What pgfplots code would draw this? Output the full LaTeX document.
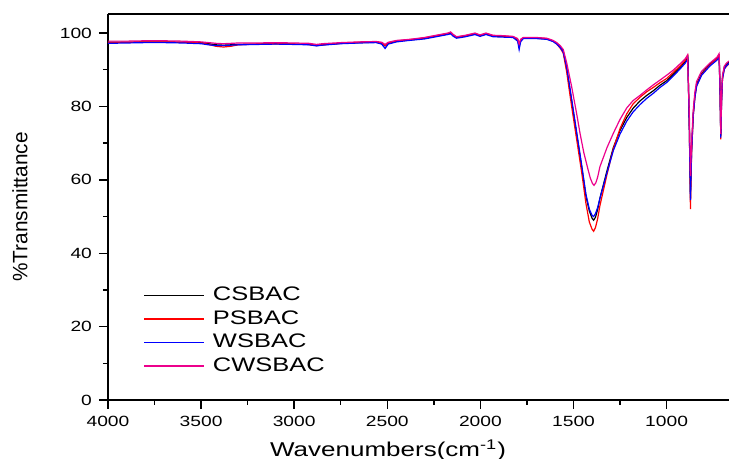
\documentclass[border=0pt]{standalone}
\usepackage{fontspec}
\setmainfont{Liberation Sans}
\newfontfamily\wide[FakeStretch=1.3]{Liberation Sans}
\usepackage{pgfplots}
\usepackage{pgfplotstable}
\pgfplotsset{compat=1.18}

\pgfplotstableread{
x y
4000 97.5
3900 97.5
3800 97.6
3700 97.6
3600 97.5
3500 97.4
3460 97.1
3420 96.8
3380 96.7
3340 96.8
3300 96.9
3200 97.0
3100 97.1
3000 97.0
2920 96.9
2880 96.6
2850 96.8
2750 97.2
2650 97.4
2560 97.5
2530 97.2
2512 96.5
2495 97.2
2450 97.8
2400 98.0
2362 98.2
2300 98.6
2217 99.4
2175 99.8
2160 100.0
2145 99.3
2128 98.8
2080 99.2
2029 99.8
2002 99.3
1970 99.8
1932 99.2
1880 99.1
1825 98.9
1800 98.2
1792 96.5
1784 98.0
1770 98.6
1700 98.6
1644 98.4
1610 97.8
1590 97.2
1570 96.2
1555 95.0
1537 90.5
1510 81.5
1483 72.5
1456 63.5
1433 55.5
1415 51.5
1400 49.5
1392 49.0
1382 49.8
1370 52.0
1358 55.0
1320 62.5
1286 68.8
1250 73.5
1214 77.0
1180 79.5
1143 81.5
1107 83.0
1071 84.3
1035 85.8
1000 87.0
964 88.8
928 90.6
900 92.2
886 93.4
878 75.0
872 55.0
866 68.0
857 78.0
848 83.0
839 86.0
812 89.0
768 91.5
730 93.2
718 93.9
713 85.0
709 72.0
705 82.0
700 88.0
690 90.8
680 91.5
665 92.2
}\csbac

\pgfplotstableread{
x y
4000 97.4
3900 97.5
3800 97.6
3700 97.6
3600 97.5
3500 97.3
3460 96.9
3420 96.4
3380 96.2
3340 96.4
3300 96.8
3200 97.0
3100 97.1
3000 97.0
2920 96.9
2880 96.6
2850 96.8
2750 97.2
2650 97.5
2560 97.6
2530 97.3
2512 96.6
2495 97.3
2450 97.9
2400 98.1
2362 98.3
2300 98.7
2217 99.5
2175 99.9
2160 100.2
2145 99.4
2128 98.9
2080 99.3
2029 99.9
2002 99.4
1970 99.9
1932 99.3
1880 99.2
1825 99.0
1800 98.3
1792 96.8
1784 98.1
1770 98.7
1700 98.7
1644 98.5
1610 97.9
1590 97.0
1570 95.8
1555 94.5
1537 89.5
1510 80.0
1483 71.0
1456 62.0
1433 53.5
1415 48.5
1400 46.5
1392 46.0
1382 47.0
1370 49.5
1358 53.0
1320 61.5
1286 68.5
1250 74.0
1214 78.0
1180 80.7
1143 82.5
1107 84.0
1071 85.2
1035 86.5
1000 87.6
964 89.3
928 91.0
900 92.6
886 93.8
878 74.0
872 52.0
866 67.0
857 77.5
848 82.5
839 85.6
812 88.7
768 91.2
730 93.0
718 93.8
713 84.0
709 71.0
705 81.0
700 87.5
690 90.2
680 90.9
665 91.6
}\psbac

\pgfplotstableread{
x y
4000 97.2
3900 97.3
3800 97.4
3700 97.4
3600 97.3
3500 97.1
3460 96.8
3420 96.6
3380 96.6
3340 96.7
3300 96.8
3200 96.9
3100 97.0
3000 96.9
2920 96.8
2880 96.5
2850 96.7
2750 97.1
2650 97.3
2560 97.4
2530 97.0
2512 95.8
2495 97.0
2450 97.6
2400 97.9
2362 98.1
2300 98.4
2217 99.2
2175 99.6
2160 99.8
2145 99.1
2128 98.6
2080 99.0
2029 99.6
2002 99.1
1970 99.6
1932 99.0
1880 98.9
1825 98.8
1800 97.8
1792 95.5
1784 97.6
1770 98.5
1700 98.5
1644 98.3
1610 97.7
1590 97.0
1570 96.0
1555 94.8
1537 90.8
1510 82.0
1483 73.0
1456 64.0
1433 56.0
1415 52.0
1400 50.3
1392 50.0
1382 50.8
1370 52.5
1358 55.0
1320 62.0
1286 68.0
1250 72.5
1214 76.0
1180 78.5
1143 80.5
1107 82.2
1071 83.6
1035 85.2
1000 86.5
964 88.3
928 90.2
900 91.8
886 93.0
878 74.0
872 54.5
866 67.5
857 77.5
848 82.5
839 85.5
812 88.5
768 91.0
730 92.6
718 93.3
713 84.0
709 71.5
705 81.0
700 87.5
690 90.2
680 91.0
665 91.8
}\wsbac

\pgfplotstableread{
x y
4000 97.8
3900 97.8
3800 97.9
3700 97.9
3600 97.8
3500 97.6
3460 97.4
3420 97.2
3380 97.1
3340 97.2
3300 97.3
3200 97.3
3100 97.4
3000 97.3
2920 97.2
2880 96.9
2850 97.1
2750 97.4
2650 97.6
2560 97.7
2530 97.5
2512 96.9
2495 97.5
2450 98.0
2400 98.2
2362 98.4
2300 98.8
2217 99.6
2175 100.0
2160 100.3
2145 99.6
2128 99.0
2080 99.4
2029 100.0
2002 99.5
1970 100.0
1932 99.4
1880 99.3
1825 99.1
1800 98.5
1792 97.0
1784 98.3
1770 98.8
1700 98.8
1644 98.6
1610 98.0
1590 97.4
1570 96.5
1555 95.5
1537 92.0
1510 85.4
1483 78.0
1465 72.7
1445 67.5
1426 63.6
1410 60.5
1398 59.0
1390 58.5
1380 59.2
1370 60.8
1358 63.6
1320 68.8
1286 72.7
1250 76.5
1214 79.6
1180 81.6
1143 83.0
1107 84.5
1071 85.9
1035 87.2
1000 88.5
964 89.9
928 91.6
900 93.0
888 94.0
878 78.0
872 61.0
866 70.0
857 79.0
848 84.0
839 86.8
812 89.6
768 91.8
730 93.4
718 94.4
713 86.0
709 72.5
705 82.5
700 88.5
690 91.0
680 91.7
665 92.4
}\cwsbac

\begin{document}
\begin{tikzpicture}
\begin{axis}[
  scale only axis,
  width=310.5pt, height=193pt,
  x dir=reverse,
  xmin=665, xmax=4000, ymin=0, ymax=105.2,
  axis x line*=bottom, axis y line*=left,
  axis line style={line width=0.7pt},
  every tick/.style={black, line width=0.7pt},
  tick align=outside,
  major tick length=4.5pt, minor tick length=2.5pt,
  xtick={1000,1500,...,4000}, ytick={0,20,...,100},
  minor x tick num=1, minor y tick num=1,
  /pgf/number format/assume math mode=true,
  /pgf/number format/1000 sep={},
  ticklabel style={font=\wide\fontsize{7.4}{8}\selectfont},
  xlabel={Wavenumbers(cm\textsuperscript{-1})},
  ylabel={\%Transmittance},
  xlabel style={font=\wide\fontsize{10}{12}\selectfont,
    at={(axis description cs:0.451,-0.1295)}, anchor=center},
  ylabel style={font=\fontsize{10.4}{12}\selectfont,
    at={(axis description cs:-0.1417,0.5)}, anchor=center},
  legend style={at={(axis description cs:0.047,0.045)}, anchor=south west,
    draw=none, fill=none, font=\wide\fontsize{9.8}{11.75}\selectfont,
    row sep=-0.6pt},
  legend cell align=left,
  legend image code/.code={\draw[#1, line width=0.8pt] (0pt,0pt) -- (30pt,0pt); \path (32pt,0pt);},
  every axis plot/.append style={line width=0.6pt},
]
\addplot[black] table[x=x, y=y] {\csbac};
\addlegendentry{CSBAC}
\addplot[red] table[x=x, y=y] {\psbac};
\addlegendentry{PSBAC}
\addplot[blue] table[x=x, y=y] {\wsbac};
\addlegendentry{WSBAC}
\addplot[magenta] table[x=x, y=y] {\cwsbac};
\addlegendentry{CWSBAC}
\draw[line width=0.7pt] (rel axis cs:0,1) -- (rel axis cs:1,1);
\end{axis}
\pgfresetboundingbox
\path[use as bounding box] ([xshift=-54pt,yshift=7pt]current axis.north west)
  rectangle ([yshift=-29.5pt]current axis.south east);
\end{tikzpicture}
\end{document}
